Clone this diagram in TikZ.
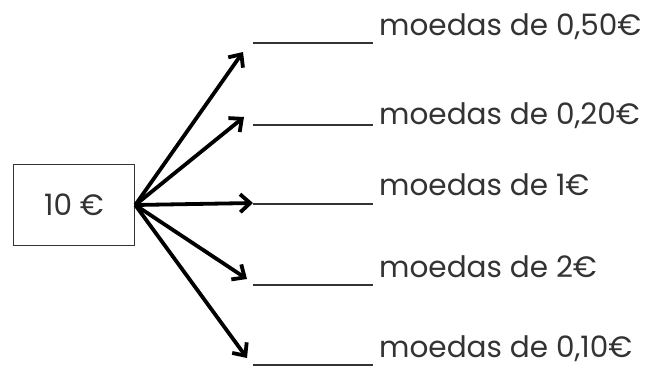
\documentclass[tikz,border=0pt]{standalone}
\usepackage{fontspec}
\setmainfont{Poppins}
\usepackage{tikz}
\usetikzlibrary{arrows.meta}
\definecolor{ink}{gray}{0.2}

\begin{document}
\begin{tikzpicture}[x=1pt,y=-1pt,
		coinarrow/.style={line width=3.8pt,-{Straight Barb[length=10pt,width=18pt,line width=3.8pt]}},
		blank/.style={line width=2pt,draw=ink},
		label/.style={anchor=base west,inner sep=0pt,text=ink,font=\fontsize{29.5}{34}\selectfont}]
					\useasboundingbox (0,0) rectangle (656,367);
					\def\lx{253};
					\def\rx{373};
					\def\tx{379};
					% the amount
					\node[draw=ink,line width=1.5pt,minimum width=121pt,minimum height=81pt,inner sep=0pt,
					      text=ink,font=\fontsize{29.5}{34}\selectfont] (money) at (74,205) {10 €};
					% where the arrows stop
					\coordinate (t1) at (243,52);
					\coordinate (t2) at (244,117);
					\coordinate (t3) at (253,203);
					\coordinate (t4) at (247,279);
					\coordinate (t5) at (247,358);
					% blanks to fill in
					\draw[blank] (\lx,43) -- (\rx,43);
					\draw[blank] (\lx,125) -- (\rx,125);
					\draw[blank] (\lx,204) -- (\rx,204);
					\draw[blank] (\lx,285) -- (\rx,285);
					\draw[blank] (\lx,365) -- (\rx,365);
					\node[label] (c050) at (\tx,35) {moedas de 0,50€};
					\node[label] (c020) at (\tx,124) {moedas de 0,20€};
					\node[label] (c100) at (\tx,195) {moedas de 1€};
					\node[label] (c200) at (\tx,277) {moedas de 2€};
					\node[label] (c010) at (\tx,357) {moedas de 0,10€};
					\draw[coinarrow] (money.east) -- (t1);
					\draw[coinarrow] (money.east) -- (t2);
					\draw[coinarrow] (money.east) -- (t3);
					\draw[coinarrow] (money.east) -- (t4);
					\draw[coinarrow] (money.east) -- (t5);
				\end{tikzpicture}
\end{document}
